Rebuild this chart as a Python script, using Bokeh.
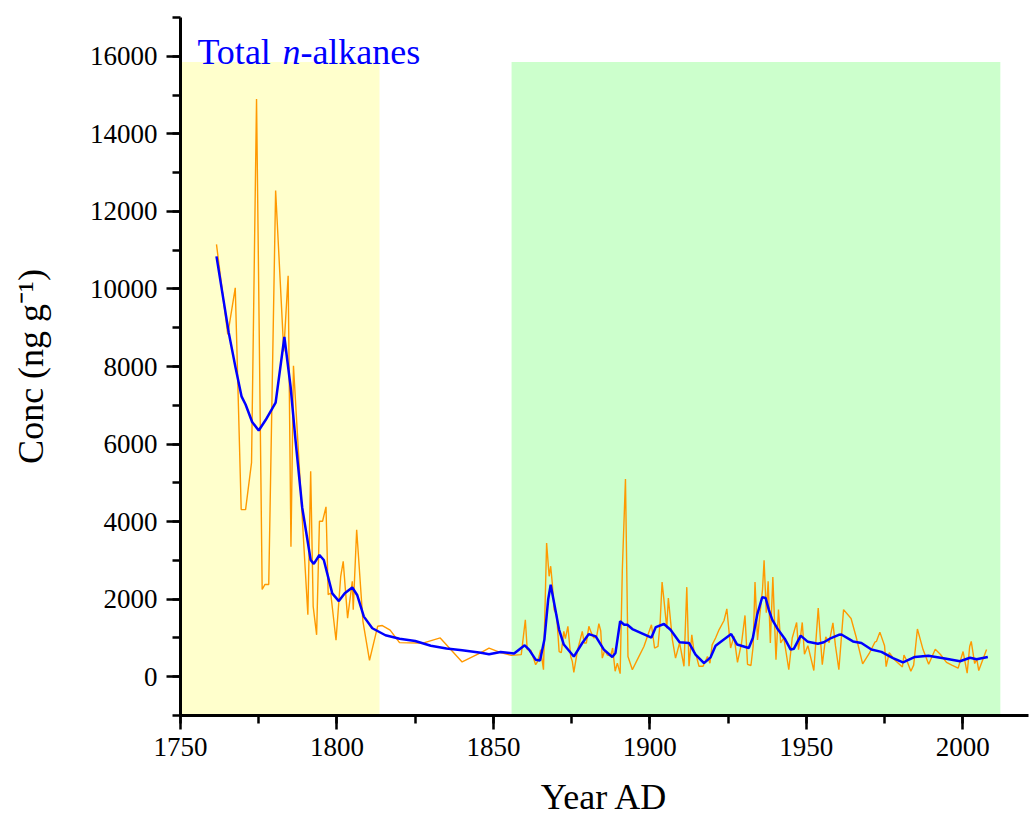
from bokeh.plotting import figure
from bokeh.models import Range1d, SingleIntervalTicker, Label
from bokeh.embed import file_html
from bokeh.resources import INLINE

# ---- data ----
raw_year = [1761.5, 1765.1, 1767.5, 1769.4, 1770.8, 1772.7, 1774.3, 1776.1, 1777.0, 1778.2,
            1780.4, 1783.0, 1784.4, 1785.3, 1786.1, 1790.7, 1791.6, 1792.4, 1793.5, 1794.4,
            1795.4, 1796.5, 1797.2, 1798.0, 1799.7, 1801.2, 1802.0, 1803.4, 1804.9, 1805.2,
            1806.3, 1808.3, 1810.4, 1813.0, 1814.5, 1817.0, 1820.0, 1826.0, 1828.0, 1833.0,
            1840.0, 1846.0, 1848.6, 1852.3, 1855.7, 1858.9, 1860.2, 1860.8, 1862.0, 1863.5,
            1864.2, 1865.1, 1866.0, 1867.0, 1867.8, 1868.3, 1868.8, 1869.4, 1870.2, 1871.0,
            1871.7, 1872.5, 1873.0, 1873.8, 1874.7, 1875.2, 1875.7, 1876.8, 1878.4, 1879.0,
            1879.7, 1880.5, 1881.3, 1882.1, 1883.0, 1883.7, 1884.3, 1884.8, 1885.6, 1886.4,
            1887.5, 1888.1, 1888.9, 1889.6, 1890.5, 1891.2, 1892.2, 1893.0, 1894.4, 1896.0,
            1898.1, 1900.5, 1901.5, 1902.6, 1903.3, 1903.9, 1904.5, 1905.4, 1905.9, 1907.2,
            1908.2, 1909.5, 1910.9, 1911.8, 1912.5, 1913.4, 1914.1, 1914.9, 1915.7, 1917.0,
            1918.4, 1919.2, 1919.9, 1921.0, 1922.1, 1923.7, 1924.6, 1925.8, 1926.9, 1928.0,
            1929.3, 1930.4, 1931.2, 1932.3, 1933.0, 1933.6, 1934.4, 1935.1, 1936.0, 1936.5,
            1937.2, 1937.8, 1938.5, 1939.3, 1940.3, 1941.1, 1941.8, 1942.8, 1944.4, 1945.5,
            1946.9, 1947.5, 1948.1, 1948.7, 1949.4, 1950.5, 1952.4, 1953.8, 1955.1, 1956.2,
            1957.3, 1958.5, 1959.3, 1960.4, 1961.9, 1964.3, 1965.9, 1968.0, 1970.1, 1971.9,
            1972.4, 1973.5, 1975.0, 1975.5, 1976.5, 1978.0, 1980.7, 1981.2, 1982.3, 1983.4,
            1984.3, 1985.5, 1987.3, 1989.1, 1991.2, 1992.8, 1994.8, 1996.5, 1998.5, 2000.1,
            2001.4, 2002.2, 2002.7, 2003.8, 2004.5, 2005.1, 2007.6]
raw_conc = [11150, 8830, 10030, 4310, 4310, 5520, 14900, 2250, 2380, 2380,
            12540, 8390, 10340, 3350, 8020, 1600, 5300, 1815, 1080, 4010,
            4010, 4380, 2115, 2160, 940, 2590, 2975, 1510, 2460, 1730,
            3790, 1430, 420, 1300, 1320, 1200, 880, 870, 880, 1000,
            380, 620, 740, 620, 550, 570, 1470, 700, 680, 310,
            400, 700, 180, 3450, 2590, 2850, 2420, 1730, 1600, 650,
            620, 1170, 980, 1300, 520, 400, 110, 650, 1170, 870,
            870, 1300, 1130, 1000, 1040, 1370, 1180, 480, 690, 560,
            540, 740, 140, 350, 80, 2760, 5100, 520, 180, 440,
            780, 1340, 740, 780, 1430, 2440, 1980, 1250, 2030, 950,
            480, 870, 270, 2310, 270, 1080, 650, 520, 270, 270,
            520, 350, 820, 1000, 1210, 1450, 1750, 740, 1040, 370,
            870, 1580, 320, 290, 780, 2440, 950, 1560, 2250, 3000,
            1650, 2460, 870, 2570, 440, 1730, 870, 1000, 180, 1000,
            1400, 700, 1000, 1400, 580, 800, 160, 1770, 310, 1030,
            880, 1390, 800, 180, 1730, 1500, 1030, 330, 600, 890,
            910, 1150, 800, 260, 620, 450, 250, 560, 380, 140,
            300, 1230, 700, 320, 710, 580, 370, 300, 220, 650,
            90, 780, 910, 340, 450, 160, 700]

smooth_year = [1761.5, 1765.4, 1767.6, 1769.5, 1770.8, 1772.9, 1775.0, 1777.2, 1780.4, 1783.2,
               1785.2, 1786.8, 1788.9, 1791.6, 1792.6, 1794.4, 1795.8, 1798.5, 1800.6, 1802.5,
               1804.9, 1806.5, 1808.6, 1811.3, 1815.5, 1820.0, 1825.0, 1830.0, 1835.0, 1840.0,
               1846.0, 1848.6, 1852.3, 1856.6, 1860.0, 1861.4, 1863.5, 1864.9, 1866.3, 1867.5,
               1868.3, 1869.4, 1871.0, 1872.5, 1875.7, 1878.4, 1880.5, 1882.7, 1885.3, 1888.0,
               1889.0, 1890.5, 1891.8, 1892.8, 1894.4, 1900.5, 1901.9, 1904.5, 1906.6, 1909.5,
               1912.5, 1914.6, 1917.3, 1919.4, 1921.0, 1923.1, 1926.0, 1927.9, 1930.0, 1931.6,
               1932.9, 1934.3, 1935.9, 1937.0, 1938.0, 1939.1, 1941.0, 1943.1, 1945.0, 1946.0,
               1948.2, 1950.5, 1953.7, 1955.6, 1957.5, 1960.4, 1961.2, 1964.9, 1967.6, 1970.8,
               1974.0, 1977.7, 1980.9, 1984.7, 1989.0, 1994.3, 1999.1, 2002.3, 2004.4, 2008.0]
smooth_conc = [10840, 8880, 7970, 7230, 7020, 6570, 6350, 6620, 7070, 8760,
               7470, 6060, 4360, 3010, 2910, 3140, 3010, 2150, 1950, 2150,
               2300, 2100, 1550, 1250, 1070, 980, 920, 800, 730, 680,
               620, 580, 640, 600, 810, 700, 440, 420, 960, 1990,
               2370, 1900, 1210, 830, 520, 870, 1100, 1040, 700, 510,
               610, 1430, 1340, 1340, 1230, 1010, 1280, 1360, 1210, 890,
               870, 570, 350, 500, 800, 930, 1100, 830, 780, 740,
               1000, 1600, 2050, 2030, 1730, 1470, 1210, 980, 700, 720,
               1060, 900, 850, 890, 980, 1080, 1090, 910, 870, 700,
               640, 480, 370, 510, 540, 470, 400, 490, 450, 510]

yellow_span = (1750, 1813.6)
green_span = (1855.8, 2012)
band_top = 15850

SERIF = "Liberation Serif"

p = figure(width=1032, height=819, output_backend="svg", toolbar_location=None,
           x_range=Range1d(1750, 2021), y_range=Range1d(-1000, 17000),
           min_border_left=180, min_border_right=4, min_border_top=17, min_border_bottom=104)
p.outline_line_color = None
p.xgrid.visible = False
p.ygrid.visible = False
p.background_fill_color = "white"

p.quad(left=[yellow_span[0]], right=[yellow_span[1]], bottom=[-1000], top=[band_top],
       fill_color="#FFFFCC", line_color=None)
p.quad(left=[green_span[0]], right=[green_span[1]], bottom=[-1000], top=[band_top],
       fill_color="#CCFFCC", line_color=None)

p.line(raw_year, raw_conc, line_color="#FF9900", line_width=1.4)
p.line(smooth_year, smooth_conc, line_color="#0000FF", line_width=2.5)

for ax, interval in ((p.xaxis[0], 50), (p.yaxis[0], 2000)):
    ax.ticker = SingleIntervalTicker(interval=interval, num_minor_ticks=2)
    ax.axis_line_width = 3
    ax.axis_line_color = "black"
    ax.major_tick_line_width = 2.5
    ax.minor_tick_line_width = 2.5
    ax.major_tick_in = 0
    ax.minor_tick_in = 0
    ax.major_tick_out = 14
    ax.minor_tick_out = 8
    ax.major_label_text_font = SERIF
    ax.major_label_text_font_size = "27px"
    ax.major_label_text_color = "black"
    ax.major_label_standoff = 8
    ax.axis_label_text_font = SERIF
    ax.axis_label_text_font_size = "36px"
    ax.axis_label_text_font_style = "normal"
    ax.axis_label_text_color = "black"
p.yaxis[0].major_label_standoff = 9

p.xaxis[0].axis_label = "Year AD"
p.xaxis[0].axis_label_standoff = 18
p.yaxis[0].axis_label = "Conc (ng g\u207b\u00b9)"
p.yaxis[0].axis_label_standoff = 36

# panel title with italic n
tx, ty = 1755.4, 16100
p.add_layout(Label(x=tx, y=ty, text="Total", text_font=SERIF, text_font_size="36px",
                   text_color="#0000FF", text_baseline="alphabetic"))
p.add_layout(Label(x=tx, y=ty, x_offset=85, text="n", text_font=SERIF, text_font_size="36px",
                   text_font_style="italic", text_color="#0000FF", text_baseline="alphabetic"))
p.add_layout(Label(x=tx, y=ty, x_offset=103, text="-alkanes", text_font=SERIF,
                   text_font_size="36px", text_color="#0000FF", text_baseline="alphabetic"))

open("out.html", "w").write(file_html(p, INLINE))
